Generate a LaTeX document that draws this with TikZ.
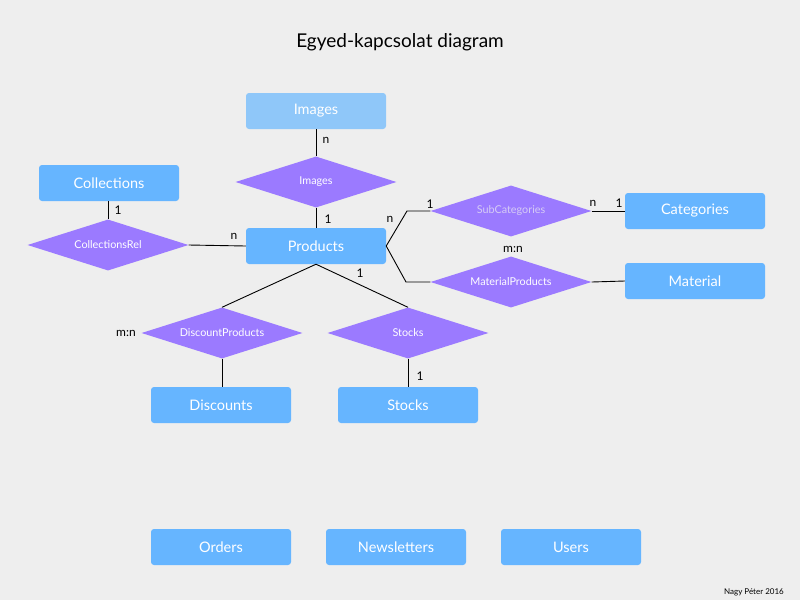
\documentclass[tikz,border=0pt]{standalone}
\usepackage{fontspec}
\setmainfont{Lato}
\usetikzlibrary{shapes.geometric}
\definecolor{bg}{HTML}{EEEEEE}
\definecolor{ent}{HTML}{66B5FF}
\definecolor{entlight}{HTML}{8FC7F9}
\definecolor{rel}{HTML}{9B7AFF}
\definecolor{subtxt}{HTML}{D6CCF5}
\tikzset{
  entity/.style={rectangle, rounded corners=3pt, fill=ent, text=white, minimum width=140pt, minimum height=36pt, inner sep=0pt, font=\fontsize{14.5}{16}\selectfont},
  relation/.style={diamond, aspect=3.16, fill=rel, text=white, minimum width=161pt, minimum height=51pt, inner sep=0pt, font=\fontsize{10.8}{12}\selectfont},
  card/.style={inner sep=0pt, font=\fontsize{12}{14}\selectfont, text=black},
  conn/.style={draw=black, line width=0.9pt}
}
\begin{document}
\begin{tikzpicture}[x=1pt,y=-1pt]
\fill[bg] (0,0) rectangle (800,600);
\useasboundingbox (0,0) rectangle (800,600);
\node[inner sep=0pt, font=\fontsize{19}{22}\selectfont] (title) at (400,42) {Egyed-kapcsolat diagram};

% entities
\node[entity, fill=entlight] (imgE) at (316,111) {Images};
\node[entity] (coll) at (109,183) {Collections};
\node[entity] (prod) at (316,246) {Products};
\node[entity] (cat) at (695,211) {Categories};
\node[entity] (mat) at (695,281) {Material};
\node[entity] (disc) at (221,405) {Discounts};
\node[entity] (stockE) at (408,405) {Stocks};
\node[entity] (orders) at (221,547) {Orders};
\node[entity] (news) at (396,547) {Newsletters};
\node[entity] (users) at (571,547) {Users};

% relations
\node[relation] (imgR) at (316,182) {Images};
\node[relation] (collR) at (108,245) {CollectionsRel};
\node[relation, text=subtxt] (subR) at (511,211) {SubCategories};
\node[relation] (matR) at (511,282) {MaterialProducts};
\node[relation] (discR) at (222,333) {DiscountProducts};
\node[relation] (stockR) at (408,333) {Stocks};

% bend points
\coordinate (b1) at (407,211);
\coordinate (b2) at (406,282);

% connectors
\draw[conn] (imgE.south) -- (imgR.north);
\draw[conn] (imgR.south) -- (prod.north);
\draw[conn] (coll.south -| collR.north) -- (collR.north);
\draw[conn] (collR.east) -- (prod.west);
\draw[conn] (prod.east) -- (b1) -- (subR.west);
\draw[conn] (prod.east) -- (b2) -- (matR.west);
\draw[conn] (subR.east) -- (cat.west);
\draw[conn] (matR.east) -- (mat.west);
\draw[conn] (prod.south) -- (discR.north);
\draw[conn] (prod.south) -- (stockR.north);
\draw[conn] (discR.south) -- (disc.north -| discR.south);
\draw[conn] (stockR.south) -- (stockE.north);

% cardinalities
\node[card] (c1) at (326,140) {n};
\node[card] (c2) at (328,219) {1};
\node[card] (c3) at (118,210) {1};
\node[card] (c4) at (234,236) {n};
\node[card] (c5) at (390,219) {n};
\node[card] (c6) at (430,204) {1};
\node[card] (c7) at (593,203) {n};
\node[card] (c8) at (619,203) {1};
\node[card] (c9) at (513,249) {m:n};
\node[card] (c10) at (360,273) {1};
\node[card] (c11) at (126,333) {m:n};
\node[card] (c12) at (420,376) {1};

\node[anchor=east, inner sep=0pt, font=\fontsize{8}{10}\selectfont] (sig) at (784,592) {Nagy Péter 2016};
\end{tikzpicture}
\end{document}
